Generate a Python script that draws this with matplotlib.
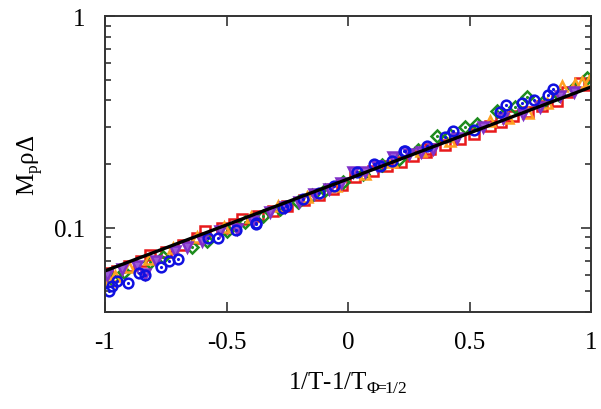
import matplotlib
matplotlib.use("Agg")
import numpy as np
import matplotlib.pyplot as plt
from matplotlib.ticker import LogLocator, NullFormatter, FixedLocator

plt.rcParams["font.family"] = "Liberation Serif"
plt.rcParams["mathtext.fontset"] = "custom"
plt.rcParams["mathtext.rm"] = "Liberation Serif"

# fitted line: 0.17 * exp(x)
fit_amp = 0.17
fit_x = np.linspace(-1, 1, 50)

# scattered points per series
red_x = [-0.99, -0.95, -0.9, -0.85, -0.815, -0.75, -0.68, -0.62, -0.59, -0.52, -0.47, -0.436,
         -0.37, -0.31, -0.25, -0.18, -0.12, -0.06, -0.025, 0.03, 0.103, 0.16, 0.22, 0.267,
         0.32, 0.337, 0.4, 0.46, 0.52, 0.584, 0.63, 0.68, 0.74, 0.8, 0.86, 0.9, 0.955, 0.99]
red_y = [0.0610, 0.0625, 0.0660, 0.0700, 0.0740, 0.0770, 0.0830, 0.0890, 0.0960, 0.0995, 0.1040, 0.1100,
         0.1140, 0.1200, 0.1270, 0.1350, 0.1430, 0.1520, 0.1600, 0.1740, 0.1860, 0.1960, 0.2050, 0.2180,
         0.2280, 0.2360, 0.2470, 0.2620, 0.2780, 0.3030, 0.3150, 0.3370, 0.3520, 0.3760, 0.3950, 0.4380, 0.4830, 0.4700]

blue_x = [-0.985, -0.97, -0.95, -0.905, -0.86, -0.835, -0.77, -0.737, -0.70, -0.576, -0.535, -0.46,
          -0.38, -0.379, -0.267, -0.255, -0.185, -0.12, -0.058, 0.037, 0.107, 0.132, 0.18, 0.23,
          0.235, 0.325, 0.4, 0.432, 0.52, 0.626, 0.65, 0.716, 0.765, 0.823, 0.844]
blue_y = [0.0500, 0.0530, 0.0560, 0.0550, 0.0610, 0.0600, 0.0655, 0.0700, 0.0714, 0.0897, 0.0897, 0.0980,
          0.1040, 0.1050, 0.1240, 0.1260, 0.1370, 0.1460, 0.1580, 0.1840, 0.2000, 0.1960, 0.2060, 0.2310,
          0.2310, 0.2430, 0.2680, 0.2870, 0.2900, 0.3520, 0.3800, 0.3880, 0.4000, 0.4240, 0.4530]

green_x = [-0.97, -0.92, -0.815, -0.76, -0.64, -0.58, -0.50, -0.424, -0.35, -0.28, -0.206, -0.15,
           -0.095, -0.02, 0.06, 0.14, 0.21, 0.29, 0.366, 0.42, 0.48, 0.53, 0.613, 0.687,
           0.737, 0.80, 0.87, 0.93, 0.984]
green_y = [0.0575, 0.0620, 0.0690, 0.0730, 0.0814, 0.0870, 0.0960, 0.1070, 0.1140, 0.1230, 0.1330, 0.1420,
           0.1510, 0.1640, 0.1800, 0.1970, 0.2120, 0.2320, 0.2720, 0.2750, 0.2990, 0.3100, 0.3560, 0.3700,
           0.4150, 0.3900, 0.4250, 0.4550, 0.5100]

orange_x = [-0.985, -0.96, -0.9, -0.82, -0.72, -0.62, -0.51, -0.40, -0.29, -0.17, -0.05, 0.07,
            0.18, 0.3, 0.42, 0.584, 0.66, 0.74, 0.82, 0.88, 0.934, 0.963, 0.99]
orange_y = [0.0560, 0.0590, 0.0650, 0.0710, 0.0800, 0.0900, 0.1010, 0.1130, 0.1260, 0.1400, 0.1570, 0.1800,
            0.2040, 0.2300, 0.2580, 0.3200, 0.3300, 0.3500, 0.3900, 0.4670, 0.4760, 0.4900, 0.4950]

purple_x = [-0.99, -0.93, -0.87, -0.835, -0.79, -0.712, -0.663, -0.6, -0.527, -0.457, -0.39, -0.321,
            -0.26, -0.2, -0.14, -0.08, -0.03, 0.02, 0.07, 0.12, 0.185, 0.25, 0.3, 0.35,
            0.45, 0.556, 0.638, 0.72, 0.79, 0.872, 0.93]
purple_y = [0.0600, 0.0640, 0.0660, 0.0607, 0.0700, 0.0780, 0.0815, 0.0870, 0.0970, 0.0990, 0.1080, 0.1190,
            0.1250, 0.1330, 0.1440, 0.1530, 0.1620, 0.1840, 0.1840, 0.1950, 0.2150, 0.2220, 0.2280, 0.2360,
            0.2650, 0.3000, 0.3300, 0.3450, 0.3700, 0.4200, 0.4400]

fig = plt.figure(figsize=(6.01, 4.10), dpi=100)
ax = fig.add_axes([0.1747, 0.2366, 0.8087, 0.7219])

mk = dict(linestyle="none", markersize=7, markeredgewidth=1.8, markerfacecolor="none")
ax.plot(red_x, red_y, marker="s", color="#e8191b", **mk)
ax.plot(green_x, green_y, marker="D", color="#1e8c1e", markersize=6, markeredgewidth=1.8,
        linestyle="none", markerfacecolor="none")
ax.plot(green_x, green_y, marker=".", color="#1e8c1e", markersize=2.5, linestyle="none")
ax.plot(orange_x, orange_y, marker="^", color="#ffa020", **mk)
ax.plot(purple_x, purple_y, marker="v", color="#8030c8", linestyle="none", markersize=7,
        markeredgewidth=1.8, markerfacecolor="#9a5ad8")
ax.plot(blue_x, blue_y, marker="o", color="#1010e0", **mk)
ax.plot(blue_x, blue_y, marker=".", color="#1010e0", markersize=2.5, linestyle="none")

ax.plot(fit_x, fit_amp * np.exp(fit_x), color="black", lw=2.4)

ax.set_yscale("log")
ax.set_xlim(-1, 1)
ax.set_ylim(0.04, 1)
ax.xaxis.set_major_locator(FixedLocator([-1, -0.5, 0, 0.5, 1]))
ax.set_xticklabels(["-1", "-0.5", "0", "0.5", "1"])
ax.yaxis.set_major_locator(FixedLocator([0.1, 1]))
ax.set_yticklabels(["0.1", "1"])
ax.yaxis.set_minor_locator(LogLocator(base=10, subs=np.arange(2, 10)))
ax.yaxis.set_minor_formatter(NullFormatter())

ax.tick_params(which="both", direction="in", top=True, right=True, labelsize=18,
               color="#333333", width=1.2, pad=14)
ax.tick_params(which="major", length=7)
ax.tick_params(which="minor", length=4)
for s in ax.spines.values():
    s.set_color("#333333")
    s.set_linewidth(1.4)

ax.set_xlabel("1/T-1/T$_{\\mathregular{Φ\\!\\!=\\!\\!1/2}}$", fontsize=18, labelpad=12)
ax.set_ylabel("M$_\\mathregular{p}$ρΔ", fontsize=18, labelpad=7)

fig.savefig("out.png", dpi=100)
